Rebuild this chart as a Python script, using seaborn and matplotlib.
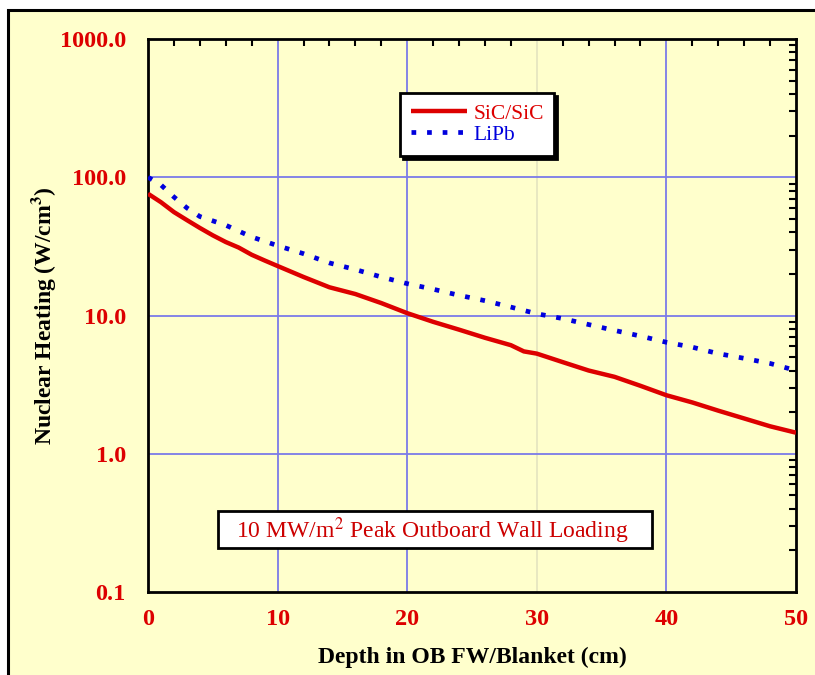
import numpy as np
import pandas as pd
import seaborn as sns
import matplotlib
matplotlib.use("Agg")
import matplotlib.pyplot as plt
from matplotlib.patches import Rectangle
from matplotlib.ticker import FixedLocator, LogLocator, NullFormatter, MultipleLocator

# Nuclear heating profiles through the outboard first wall / blanket
sic_depth = [0, 1, 2, 3, 4, 5, 6, 7, 8, 9, 10, 12, 14, 16, 18, 20, 22, 24, 26, 28,
             29, 30, 32, 34, 36, 38, 40, 42, 44, 46, 48, 50]
sic_heat = [76, 66, 56, 49, 43, 38, 34, 31, 27.5, 25, 22.8, 19, 16, 14.3, 12.3, 10.4,
            9.0, 7.9, 6.9, 6.1, 5.5, 5.3, 4.6, 4.0, 3.6, 3.1, 2.65, 2.35, 2.05, 1.8,
            1.58, 1.42]

lipb_depth = [0, 1, 2, 3, 4, 6, 8, 10, 12, 14, 16, 18, 20, 22, 24, 26, 28, 30, 32, 34,
              36, 38, 40, 42, 44, 46, 48, 50]
lipb_heat = [100, 88, 72, 60, 52, 45, 37, 32, 28, 24, 21.5, 19, 17, 15.5, 14, 12.8,
             11.5, 10.3, 9.5, 8.6, 7.8, 7.1, 6.4, 5.9, 5.3, 4.9, 4.5, 4.0]

series_names = ["SiC/SiC", "LiPb"]
x_ticks = [0, 10, 20, 30, 40, 50]
y_ticks = [0.1, 1.0, 10.0, 100.0, 1000.0]
y_tick_labels = ["0.1", "1.0", "10.0", "100.0", "1000.0"]

df = pd.concat([
    pd.DataFrame({"depth": sic_depth, "heat": sic_heat, "material": series_names[0]}),
    pd.DataFrame({"depth": lipb_depth, "heat": lipb_heat, "material": series_names[1]}),
])

sns.set_theme(style="white")
plt.rcParams["font.family"] = ["Liberation Serif", "DejaVu Serif"]
plt.rcParams["mathtext.fontset"] = "stix"

BG = "#FFFFCC"
RED = "#DD0000"
BLUE = "#0000DD"
GRID = "#7B7BE8"

fig = plt.figure(figsize=(8.15, 6.75), dpi=100, facecolor="white")
# Framed panel around the plot
fig.patches.append(Rectangle((8 / 815, -0.02), 1.02, (675 - 10) / 675 + 0.02,
                             transform=fig.transFigure, facecolor=BG,
                             edgecolor="black", linewidth=2.2, zorder=-5))

ax = fig.add_axes([148 / 815, 1 - 592 / 675, (796 - 148) / 815, (592 - 39) / 675])
ax.set_zorder(2)
ax.set_facecolor(BG)

sns.lineplot(data=df, x="depth", y="heat", hue="material",
             palette={series_names[0]: RED, series_names[1]: BLUE},
             ax=ax, legend=False, zorder=3)
lines = ax.get_lines()
lines[0].set_linewidth(3.2)
lines[0].set_solid_capstyle("butt")
lines[1].set_linewidth(3.4)
lines[1].set_linestyle((0, (1.0, 2.3)))
lines[1].set_dash_capstyle("butt")

ax.set_yscale("log")
ax.set_xlim(0, 50)
ax.set_ylim(0.1, 1000)

# Grid lines
for xv in [10, 20, 40]:
    ax.axvline(xv, color=GRID, lw=1.3, zorder=1)
ax.axvline(30, color="#E6E6C0", lw=1.3, zorder=1)
for yv in [1, 10, 100]:
    ax.axhline(yv, color=GRID, lw=1.3, zorder=1)

ax.xaxis.set_major_locator(FixedLocator(x_ticks))
ax.xaxis.set_minor_locator(MultipleLocator(2))
ax.yaxis.set_major_locator(FixedLocator(y_ticks))
ax.yaxis.set_minor_locator(LogLocator(base=10, subs=np.arange(2, 10)))
ax.yaxis.set_minor_formatter(NullFormatter())
ax.set_yticklabels(y_tick_labels)
ax.set_xticklabels([str(v) for v in x_ticks])

ax.tick_params(axis="both", which="both", direction="in", top=True, right=True,
               color="black", width=1.5)
ax.tick_params(axis="both", which="major", length=0)
ax.tick_params(axis="both", which="minor", length=5)
ax.tick_params(axis="y", which="major", pad=16, labelsize=17.5, labelcolor=RED)
ax.tick_params(axis="x", which="major", pad=12, labelsize=17.5, labelcolor=RED)
for lab in ax.get_xticklabels() + ax.get_yticklabels():
    lab.set_fontweight("bold")

for sp in ax.spines.values():
    sp.set_color("black")
    sp.set_linewidth(2)

ax.set_xlabel("Depth in OB FW/Blanket (cm)", fontsize=17, fontweight="bold",
              color="black")
ax.xaxis.set_label_coords(0.5, -(647 - 592) / 553)
ax.set_ylabel("Nuclear Heating (W/cm$^{\\mathbf{3}}$)", fontsize=17, fontweight="bold",
              color="black")
ax.yaxis.set_label_coords(-(148 - 58) / 648, 0.5)

# Legend with drop shadow
leg = ax.legend(handles=lines, labels=series_names, loc="upper left",
                bbox_to_anchor=((400 - 148) / 648, 1 - (93 - 39) / 553),
                frameon=True, fancybox=False, shadow={"color": "black", "alpha": 1},
                fontsize=15.5, handlelength=2.6, borderpad=0.5, labelspacing=0.05,
                handletextpad=0.3, borderaxespad=0)
leg.get_frame().set_edgecolor("black")
leg.get_frame().set_linewidth(2)
leg.get_frame().set_facecolor("white")
for txt, col in zip(leg.get_texts(), [RED, BLUE]):
    txt.set_color(col)

# Loading annotation box
ax.add_patch(Rectangle(((218 - 148) / 648, 1 - (548 - 39) / 553), 434 / 648, 37 / 553,
                       transform=ax.transAxes, facecolor="white", edgecolor="black",
                       linewidth=2, zorder=4))
ax.text((236 - 148) / 648, 1 - (531 - 39) / 553, "10 MW/m$^2$ Peak Outboard Wall Loading",
        transform=ax.transAxes, fontsize=17, color="#CC0000", va="center", ha="left",
        zorder=5)

fig.savefig("out.png", dpi=100, facecolor="white")
